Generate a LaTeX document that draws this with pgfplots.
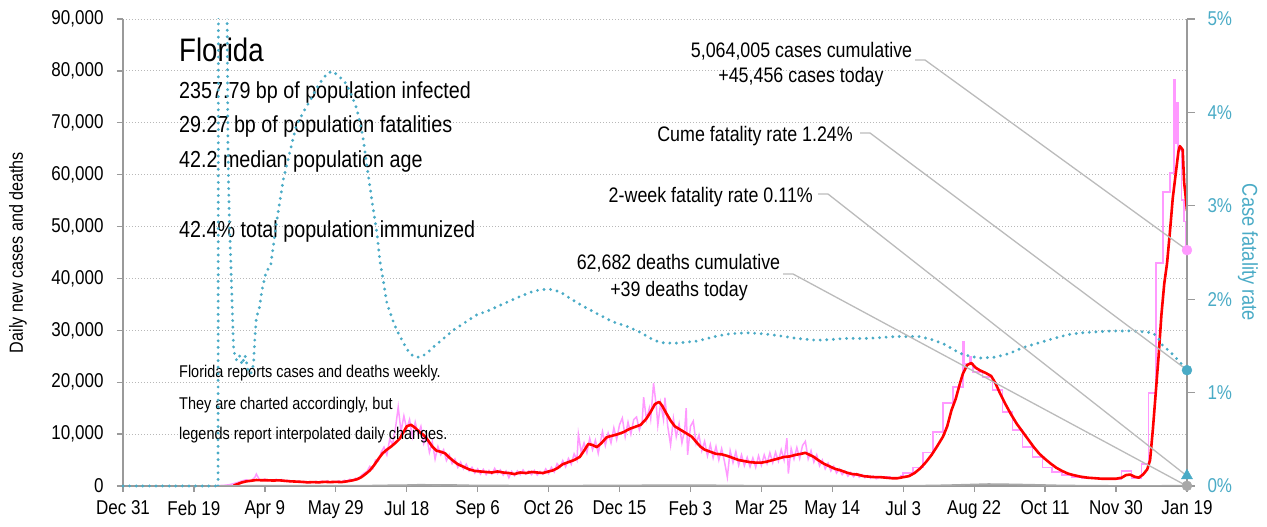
\documentclass[border=0pt]{standalone}
\usepackage{pgfplots}
\pgfplotsset{compat=1.18}
\usepackage{fontspec}
\setmainfont{Liberation Sans}[FakeStretch=0.85]
\definecolor{cpink}{HTML}{FF99FF}
\definecolor{cred}{HTML}{FF0000}
\definecolor{cteal}{HTML}{4AABC6}
\definecolor{caxis}{HTML}{9A9A9A}
\definecolor{cgrid}{HTML}{B8B8B8}
\definecolor{clead}{HTML}{BBBBBB}
\definecolor{cdeath}{HTML}{A8A8A8}
\pgfplotsset{
  geom/.style={scale only axis, width=1064pt, height=467pt, xmin=0, xmax=750},
  tealdots/.style={cteal, line width=3.2pt, dash pattern=on 0pt off 6.6pt, line cap=round},
}
\begin{document}
\begin{tikzpicture}
% ---------------- left axis: cases ----------------
\begin{axis}[name=ax, geom, ymin=0, ymax=90000,
  scaled y ticks=false,
  axis x line*=bottom, axis y line*=left,
  axis line style={draw=caxis, line width=1.8pt},
  xtick={0,50,...,750},
  xticklabels={Dec 31,Feb 19,Apr 9,May 29,Jul 18,Sep 6,Oct 26,Dec 15,Feb 3,Mar 25,May 14,Jul 3,Aug 22,Oct 11,Nov 30,Jan 19},
  ytick={0,10000,...,90000},
  yticklabels={0,{10,000},{20,000},{30,000},{40,000},{50,000},{60,000},{70,000},{80,000},{90,000}},
  tick align=outside, major tick length=6pt,
  tick style={draw=caxis, line width=1.3pt},
  ymajorgrids, grid style={draw=cgrid, line width=1pt, dash pattern=on 1pt off 2pt},
  tick label style={font=\fontsize{20}{20}\selectfont, text=black},
  xticklabel style={yshift=-5pt},
  yticklabel style={xshift=-10pt},
  ylabel={Daily new cases and deaths},
  every axis y label/.style={at={(axis description cs:-0.0987,0.5)}, rotate=90, anchor=center, font=\fontsize{19}{20}\selectfont},
]
% daily cases (reported, noisy part)
\addplot[cpink, line width=1.5pt] table {
d v
63 20
66 50
69 100
72 150
75 250
78 450
81 700
84 1000
87 1200
90 900
93 1700
94 2300
96 1300
98 1050
100 1350
102 1000
104 1200
106 900
108 1300
110 1050
112 1250
114 850
116 1100
118 800
120 1000
122 750
124 950
126 650
128 900
130 600
132 850
134 650
136 900
138 600
140 950
142 700
144 1000
146 650
148 900
150 700
152 1000
154 750
156 1100
158 900
160 1300
162 1000
164 1500
166 1300
168 2000
170 2500
172 2800
174 3800
176 3300
178 5000
180 4800
182 6500
184 7500
186 6000
188 9000
190 8000
192 11000
194 15200
196 10500
198 13500
200 11000
202 12800
204 9500
206 12300
208 10000
210 11500
212 8200
214 9800
216 6500
218 8500
220 5200
222 7600
224 6000
226 7000
228 4900
230 6000
232 4300
234 5200
236 3600
238 4600
240 3300
242 4200
244 2900
246 3600
248 2500
250 3300
252 2300
254 3200
256 2200
258 3000
260 2300
262 3400
264 2400
266 3100
268 2100
270 2900
272 1600
274 2800
276 2000
278 2900
280 2200
282 3100
284 2300
286 2900
288 2200
290 3000
292 2100
294 2800
296 2300
298 3300
300 2400
302 3600
304 2700
306 4300
308 3600
310 4900
312 3700
314 5300
316 4200
318 6200
320 5000
321 10000
323 6500
325 8300
327 6400
329 9200
331 7000
333 8800
335 6300
338 10500
340 7800
342 10200
344 8300
346 11200
348 9000
350 11800
352 13100
354 9500
356 12300
358 10000
360 12800
362 13300
364 10800
366 12500
367 17100
369 12800
371 15000
372 13000
374 19800
376 15200
377 11700
379 16000
381 12800
382 17000
384 11500
386 7900
388 13000
390 9500
392 12000
394 8300
396 11000
397 15000
398 6000
400 11500
402 12500
404 8200
406 9800
408 6800
410 8600
412 5800
414 8000
416 5400
418 7600
420 5000
422 7200
424 4700
426 1700
428 6800
430 4500
432 6600
434 4000
436 6000
438 3900
440 5500
442 3700
444 5400
446 3600
448 5800
450 4000
452 6000
454 4300
456 6400
458 4500
460 6500
462 4800
464 7000
466 5000
468 9200
469 2400
471 7200
473 5200
475 7400
477 5300
479 7800
481 8600
483 5200
485 6800
487 4600
489 6000
491 3900
493 5000
495 3300
497 4400
499 2900
501 3800
503 2500
505 3300
507 2200
509 2900
511 1900
513 2600
515 1800
517 2400
519 1700
521 2200
523 1600
525 2000
527 1500
529 1900
531 1400
534 1700
};
% daily cases (weekly reporting, stepped)
\addplot[cpink, line width=1.5pt, const plot] table {
d v
534 1700
541 1600
548 1900
550 2500
557 3600
564 6500
571 10400
578 16000
585 19100
592 27800
592.8 23500
597 24900
597.8 23500
599 22000
606 21000
613 18500
620 14300
627 10800
634 7500
641 5600
648 3600
655 2700
662 2100
669 1700
676 1500
683 1400
690 1300
704 2900
711 1500
718 4200
723 17900
728 43000
733 56700
738 60300
741 78200
741.8 66000
743 73800
743.8 64800
746 55100
748 51000
749 45000
750 40500
};
% 7-day average
\addplot[cred, line width=2.6pt, line join=round] table {
d v
78 100
81 400
84 700
87 900
90 1000
94 1150
98 1100
102 1100
106 1050
110 1100
114 1000
118 900
122 850
126 800
130 700
134 750
138 700
142 800
146 750
150 800
154 750
158 900
162 1100
165 1300
168 1700
171 2300
174 3000
177 4000
180 5200
183 6300
186 7000
189 7600
192 8300
195 9100
198 10500
200 11500
203 11800
206 11200
209 10400
212 9800
215 8800
218 7600
221 6800
224 6600
227 6300
230 5500
233 4800
236 4200
240 3700
244 3200
248 2900
252 2800
256 2700
260 2600
264 2800
268 2600
272 2500
276 2300
280 2600
284 2500
288 2700
292 2600
296 2500
300 2800
303 3000
306 3400
310 4200
314 4600
318 5000
322 5600
325 6800
328 8100
331 7900
334 7500
337 8200
341 9400
345 9700
349 10000
353 10400
357 11000
361 11400
365 11800
369 13000
372 14300
375 15800
378 16200
380 15500
383 14000
386 12600
389 11500
392 11000
395 10500
398 10000
401 9500
404 8500
407 7600
410 7000
414 6600
418 6200
422 6100
426 5800
430 5400
434 5000
438 4800
442 4600
446 4500
450 4500
454 4700
458 5000
462 5300
466 5600
470 5700
474 6000
478 6200
481 6400
484 6000
487 5600
490 5000
494 4300
498 3800
502 3300
506 3000
510 2600
514 2300
518 2200
522 1900
526 1800
530 1700
534 1700
538 1600
542 1500
546 1500
550 1700
554 1900
558 2500
562 3400
566 4600
570 6000
574 7700
578 9500
581 11500
584 14600
587 16800
590 19800
592 21600
595 23300
598 23700
601 22800
604 22300
608 21800
612 21200
615 19800
618 18000
622 15800
626 13800
630 12000
634 10500
638 9000
642 7500
646 6200
650 5200
654 4300
658 3500
662 2900
666 2400
670 2100
675 1800
680 1600
685 1500
690 1400
695 1400
700 1400
704 1600
707 2100
710 2200
713 1800
716 1600
719 2200
722 3200
724 5000
726 11000
728 18000
730 25000
732 33000
734 39000
736 43000
738 49000
740 55500
742 60000
744 64500
745 65500
747 64800
748 58500
749 56000
750 53000
};
% daily deaths
\addplot[cdeath, line width=1.6pt] table {
d v
62 0
80 30
100 60
110 50
130 40
150 40
170 60
190 150
200 180
210 250
220 190
230 220
240 150
250 110
260 120
270 90
280 70
290 80
300 70
320 80
340 110
360 120
380 170
390 150
400 180
420 130
440 80
460 70
480 60
500 60
530 40
560 60
580 150
600 300
610 380
620 350
640 250
660 120
680 60
700 30
720 20
740 50
750 39
};
\end{axis}
% ---------------- text block (pixel frame, origin top-left) ----------------
\begin{scope}[shift={(ax.south west)}, xshift=-123pt, yshift=486pt, x=1pt, y=-1pt]
\node[anchor=base west, inner sep=0, font=\fontsize{32.5}{33}\selectfont] at (179,62) {Florida};
\begin{scope}[every node/.style={anchor=base west, inner sep=0, font=\fontsize{23.2}{24}\selectfont}]
\node at (179,99) {2357.79 bp of population infected};
\node at (179,133) {29.27 bp of population fatalities};
\node at (179,168) {42.2 median population age};
\node at (179,238) {42.4\% total population immunized};
\end{scope}
\begin{scope}[every node/.style={anchor=base west, inner sep=0, font=\fontsize{17}{18}\selectfont}]
\node at (179,378) {Florida reports cases and deaths weekly.};
\node at (179,410) {They are charted accordingly, but};
\node at (179,440) {legends report interpolated daily changes.};
\end{scope}
\end{scope}
% ---------------- right axis: case fatality rate ----------------
\begin{axis}[at={(ax.south west)}, anchor=south west, geom, ymin=0, ymax=5,
  axis x line=none, axis y line*=right,
  axis line style={draw=caxis, line width=1.8pt},
  ytick={0,1,2,3,4,5},
  yticklabels={0\%,1\%,2\%,3\%,4\%,5\%},
  tick align=outside, major tick length=8pt,
  tick style={draw=caxis, line width=1.3pt},
  tick label style={font=\fontsize{20}{20}\selectfont, text=cteal},
  yticklabel style={xshift=9pt},
  ylabel={Case fatality rate},
  every axis y label/.style={at={(axis description cs:1.0573,0.5)}, rotate=-90, anchor=center, font=\fontsize{21.5}{22}\selectfont, text=cteal},
]
\addplot[tealdots] table {
d r
67 0
68 20
72 12
73 6
74 3.6
75 2.8
76 2.4
77 1.9
78 1.45
80 1.35
82 1.4
84 1.3
86 1.4
88 1.25
90 1.2
92 1.3
93 1.6
94 1.8
96 1.9
98 2.1
101 2.3
104 2.35
108 2.8
113 3.28
118 3.6
122 3.85
127 4.0
132 4.13
138 4.3
144 4.42
148 4.44
151 4.40
155 4.35
158 4.29
162 4.15
165 4.03
169 3.75
172 3.42
176 3.0
179 2.71
181 2.42
184 2.15
186 1.96
190 1.78
193 1.67
197 1.55
202 1.42
206 1.38
210 1.38
214 1.42
219 1.49
226 1.58
233 1.67
241 1.75
249 1.83
258 1.88
268 1.95
280 2.03
290 2.09
300 2.11
308 2.08
316 2.0
325 1.92
336 1.83
345 1.76
355 1.71
364 1.65
372 1.58
378 1.54
383 1.53
390 1.53
397 1.54
404 1.55
412 1.58
420 1.61
428 1.63
440 1.64
451 1.63
462 1.61
475 1.58
482 1.57
489 1.56
500 1.57
510 1.58
525 1.58
545 1.6
562 1.6
572 1.56
580 1.51
590 1.42
597 1.39
604 1.37
615 1.38
625 1.42
634 1.48
645 1.53
656 1.58
666 1.62
675 1.64
686 1.65
697 1.66
712 1.66
720 1.65
726 1.64
730 1.58
733 1.5
738 1.44
743 1.36
747 1.29
750 1.24
};
\end{axis}
% ---------------- annotations ----------------
\begin{scope}[shift={(ax.south west)}, xshift=-123pt, yshift=486pt, x=1pt, y=-1pt,
  every node/.style={inner sep=0, font=\fontsize{21}{22}\selectfont}]
\node[anchor=base] at (801.5,58) {5,064,005 cases cumulative};
\node[anchor=base] at (801,83) {+45,456 cases today};
\node[anchor=base east] at (853,142) {Cume fatality rate 1.24\%};
\node[anchor=base east] at (813,203) {2-week fatality rate 0.11\%};
\node[anchor=base] at (678.5,270) {62,682 deaths cumulative};
\node[anchor=base] at (679,297) {+39 deaths today};
\draw[clead, line width=1.3pt] (915,60) -- (925,60) -- (1187,250);
\draw[clead, line width=1.3pt] (860,133) -- (870,133) -- (1187,370);
\draw[clead, line width=1.3pt] (818,194) -- (828,194) -- (1187,476);
\draw[clead, line width=1.3pt] (783,274) -- (793,274) -- (1187,486);
\end{scope}
% ---------------- unclipped overlays: end markers, baseline CFR ----------------
\begin{axis}[at={(ax.south west)}, anchor=south west, geom, ymin=0, ymax=5, hide axis, clip=false]
\addplot[tealdots] table {
d r
0 0
67 0
};
\addplot[only marks, mark=*, mark size=5pt, cteal] coordinates {(750,1.24)};
\addplot[only marks, mark=triangle*, mark size=6.5pt, cteal] coordinates {(750,0.11)};
\end{axis}
\begin{axis}[at={(ax.south west)}, anchor=south west, geom, ymin=0, ymax=90000, hide axis, clip=false]
\addplot[only marks, mark=*, mark size=5pt, cpink] coordinates {(750,45456)};
\addplot[only marks, mark=*, mark size=5pt, cdeath] coordinates {(750,39)};
\end{axis}
\pgfresetboundingbox
\path (ax.south west) ++(-123pt,-41pt) rectangle ++(1267pt,527pt);
\end{tikzpicture}
\end{document}
